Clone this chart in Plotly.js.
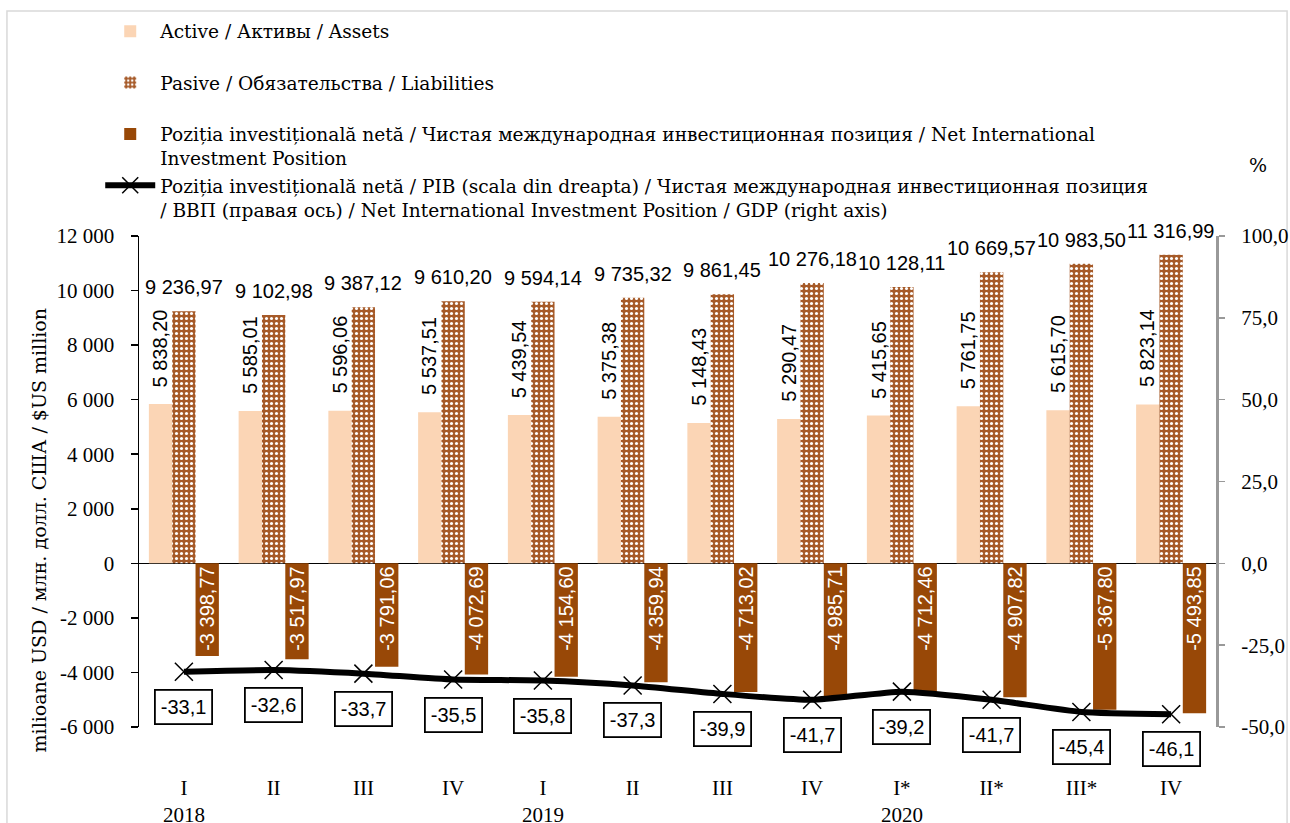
<!DOCTYPE html>
<html>
<head>
<meta charset="utf-8">
<script src="https://cdn.plot.ly/plotly-3.0.1.min.js"></script>
<style>html,body{margin:0;padding:0;background:#fff;}#chart{width:1290px;height:823px;}</style>
</head>
<body>
<div id="chart"></div>
<script>
// ---- data ----
const quarters = ["I", "II", "III", "IV", "I", "II", "III", "IV", "I*", "II*", "III*", "IV"];
const years = ["2018", "", "", "", "2019", "", "", "", "2020", "", "", ""];
const assets = [5838.20, 5585.01, 5596.06, 5537.51, 5439.54, 5375.38, 5148.43, 5290.47, 5415.65, 5761.75, 5615.70, 5823.14];
const liabilities = [9236.97, 9102.98, 9387.12, 9610.20, 9594.14, 9735.32, 9861.45, 10276.18, 10128.11, 10669.57, 10983.50, 11316.99];
const niip = [-3398.77, -3517.97, -3791.06, -4072.69, -4154.60, -4359.94, -4713.02, -4985.71, -4712.46, -4907.82, -5367.80, -5493.85];
const niipGdp = [-33.1, -32.6, -33.7, -35.5, -35.8, -37.3, -39.9, -41.7, -39.2, -41.7, -45.4, -46.1];
const leftTickVals = [-6000, -4000, -2000, 0, 2000, 4000, 6000, 8000, 10000, 12000];
const leftTickText = ["-6 000", "-4 000", "-2 000", "0", "2 000", "4 000", "6 000", "8 000", "10 000", "12 000"];
const rightTickVals = [-50, -25, 0, 25, 50, 75, 100];
const rightTickText = ["-50,0", "-25,0", "0,0", "25,0", "50,0", "75,0", "100,0"];
const seriesNames = [
  "Active / Активы / Assets",
  "Pasive / Обязательства / Liabilities",
  "Poziția investițională netă / Чистая международная инвестиционная позиция / Net International<br>Investment Position",
  "Poziția investițională netă / PIB (scala din dreapta) / Чистая международная инвестиционная позиция<br>/ ВВП (правая ось) / Net International Investment Position / GDP (right axis)"
];
const yTitle = "milioane USD / млн. долл. США / $US million";

// ---- helpers ----
function fmt2(v) {
  const neg = v < 0;
  const s = Math.abs(v).toFixed(2).split(".");
  const intPart = s[0].replace(/\B(?=(\d{3})+(?!\d))/g, " ");
  return (neg ? "-" : "") + intPart + "," + s[1];
}
function fmt1(v) { return v.toFixed(1).replace(".", ","); }

const xIdx = quarters.map((_, i) => i);
const tickLabels = quarters.map((q, i) => years[i] ? q + "<br>" + years[i] : q);

const SERIF = "DejaVu Serif, serif";
const TICKFONT = "Liberation Serif, serif";
const NARROW = "Liberation Sans, Arial, sans-serif";
const pad = "\u00a0";

const traces = [
  {
    type: "bar", x: xIdx, y: assets, name: seriesNames[0] + "<br>" + pad,
    legendgroup: "a", marker: { color: "#FBD5B5" }, hoverinfo: "y"
  },
  {
    type: "bar", x: xIdx, y: liabilities, name: seriesNames[1] + "<br>" + pad,
    legendgroup: "b",
    marker: { color: "#A65A28", pattern: { shape: ".", bgcolor: "#A65A28", fgcolor: "#ffffff", size: 5, solidity: 0.3, fillmode: "replace" } },
    hoverinfo: "y"
  },
  {
    type: "bar", x: xIdx, y: niip, name: seriesNames[2],
    legendgroup: "c", marker: { color: "#984807" },
    text: niip.map(fmt2), textposition: "inside", insidetextanchor: "start",
    textangle: -90, constraintext: "none",
    textfont: { family: NARROW, size: 20, color: "#ffffff" }, hoverinfo: "y"
  },
  {
    type: "scatter", mode: "lines+markers", x: xIdx, y: niipGdp, yaxis: "y2",
    name: seriesNames[3], legendgroup: "d",
    line: { color: "#000000", width: 6, shape: "spline", smoothing: 0.5 },
    marker: { symbol: "x-thin-open", size: 18, color: "#000000", line: { color: "#000000", width: 1.5 } },
    hoverinfo: "y"
  }
];

const annotations = [];
liabilities.forEach((v, i) => {
  annotations.push({
    x: i, y: v, xref: "x", yref: "y", text: fmt2(v), showarrow: false,
    xanchor: "center", yanchor: "bottom", yshift: 11,
    font: { family: NARROW, size: 20, color: "#000" }
  });
});
assets.forEach((v, i) => {
  annotations.push({
    x: i, y: v, xref: "x", yref: "y", text: fmt2(v), showarrow: false,
    textangle: -90, xanchor: "center", yanchor: "bottom", xshift: -23.5, yshift: 15,
    font: { family: NARROW, size: 20, color: "#000" }
  });
});
niipGdp.forEach((v, i) => {
  annotations.push({
    x: i, y: v, xref: "x", yref: "y2", text: fmt1(v), showarrow: false,
    xanchor: "center", yanchor: "top", yshift: -17,
    bgcolor: "#ffffff", bordercolor: "#000000", borderwidth: 1.8, borderpad: 5,
    font: { family: NARROW, size: 20, color: "#000" }
  });
});
annotations.push({
  xref: "paper", yref: "paper", x: -0.093, y: 0.40, text: yTitle, textangle: -90,
  showarrow: false, xanchor: "center", yanchor: "middle",
  font: { family: SERIF, size: 19, color: "#000" }
});
annotations.push({
  xref: "paper", yref: "paper", x: 1.039, y: 1.144, text: "%",
  showarrow: false, xanchor: "center", yanchor: "middle",
  font: { family: SERIF, size: 19, color: "#000" }
});

const layout = {
  width: 1290, height: 823,
  margin: { l: 139, r: 74, t: 234, b: 96 },
  paper_bgcolor: "#ffffff", plot_bgcolor: "#ffffff",
  barmode: "group", bargap: 0.22, bargroupgap: 0,
  showlegend: true,
  legend: {
    x: -0.036, y: 1.455, xanchor: "left", yanchor: "top",
    orientation: "v", traceorder: "normal", tracegroupgap: 0, valign: "top",
    itemwidth: 50, bgcolor: "rgba(0,0,0,0)",
    font: { family: SERIF, size: 18.6, color: "#000" }
  },
  xaxis: {
    range: [-0.5, 11.5], tickmode: "array", tickvals: xIdx, ticktext: tickLabels,
    showline: false, showgrid: false, zeroline: false, ticks: "",
    ticklabelstandoff: 46,
    tickfont: { family: TICKFONT, size: 21, color: "#000" }
  },
  yaxis: {
    range: [-6000, 12000], tickmode: "array", tickvals: leftTickVals, ticktext: leftTickText,
    showline: true, linecolor: "#000", linewidth: 1.5,
    ticks: "outside", ticklen: 7, tickcolor: "#000", tickwidth: 1.5,
    showgrid: false, zeroline: true, zerolinecolor: "#000", zerolinewidth: 1.5,
    ticklabelstandoff: 12,
    tickfont: { family: TICKFONT, size: 21, color: "#000" }
  },
  yaxis2: {
    range: [-50, 100], overlaying: "y", side: "right", tickmode: "array",
    tickvals: rightTickVals, ticktext: rightTickText,
    showline: true, linecolor: "#999999", linewidth: 3,
    ticks: "outside", ticklen: 6, tickcolor: "#999999", tickwidth: 1.5,
    showgrid: false, zeroline: false, ticklabelstandoff: 12,
    tickfont: { family: TICKFONT, size: 21, color: "#000" }
  },
  shapes: [{
    type: "rect", xref: "paper", yref: "paper", layer: "below",
    x0: -0.1226, x1: 1.066, y0: -0.3, y1: 1.4584,
    line: { color: "#d9d9d9", width: 1.5 }, fillcolor: "rgba(0,0,0,0)"
  }],
  annotations: annotations
};

Plotly.newPlot("chart", traces, layout, { displayModeBar: false, staticPlot: true });
</script>
</body>
</html>
